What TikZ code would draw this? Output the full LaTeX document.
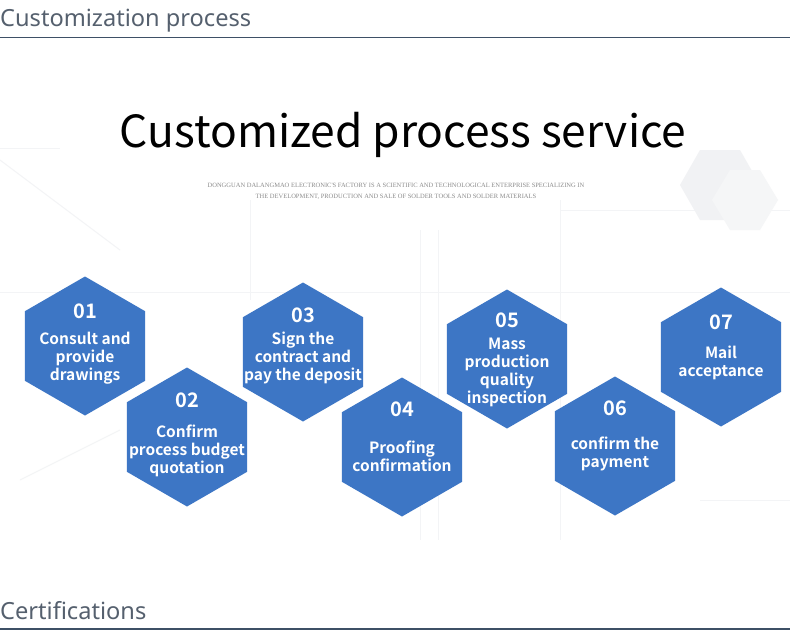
\documentclass[tikz,border=0pt]{standalone}
\usepackage{fontspec}
\setmainfont{Noto Sans}
\newfontfamily\cjk{Noto Sans CJK SC}
\newfontfamily\cjkb{Noto Sans CJK SC Bold}
\newfontfamily\subserif{Liberation Serif}
\definecolor{hexblue}{HTML}{3D76C5}
\definecolor{headtxt}{HTML}{55606E}
\definecolor{headline}{HTML}{3E5066}
\definecolor{bgline}{HTML}{F3F4F6}
\definecolor{bghex}{HTML}{F1F2F4}
\tikzset{
  hexfill/.style={fill=hexblue},
  numtxt/.style={text=white, font=\cjkb\fontsize{20}{22}\selectfont, inner sep=0pt},
  steptxt/.style={text=white, font=\cjkb\fontsize{15.5}{18}\selectfont, align=center, inner sep=0pt, yshift=-2pt},
  headtext/.style={text=headtxt, font=\fontsize{23.6}{26}\selectfont, anchor=base west, inner sep=0pt},
  bgl/.style={draw=bgline, line width=1pt},
}
\newcommand{\hexat}[1]{\fill[hexfill] (#1) ++(90:69.5) -- ++(-30:69.5) -- ++(-90:69.5) -- ++(-150:69.5) -- ++(150:69.5) -- ++(90:69.5) -- cycle;}
\begin{document}
\begin{tikzpicture}[x=1pt,y=-1pt]
\useasboundingbox (0,0) rectangle (790,634);
\fill[white] (0,0) rectangle (790,634);
% faint background pattern
\draw[bgl] (0,160) -- (120,250);
\draw[bgl] (0,292) -- (790,292);
\draw[bgl] (0,148) -- (60,148);
\draw[bgl] (420,230) -- (420,540);
\draw[bgl] (438,230) -- (438,540);
\draw[bgl] (560,200) -- (560,540);
\draw[bgl] (560,210) -- (790,210);
\draw[bgl] (700,500) -- (790,500);
\draw[bgl] (250,200) -- (250,300);
\draw[bgl] (120,430) -- (20,480);
\fill[bghex] (700,150) -- (740,150) -- (760,185) -- (740,220) -- (700,220) -- (680,185) -- cycle;
\fill[bghex!70] (730,170) -- (760,170) -- (778,200) -- (760,230) -- (730,230) -- (712,200) -- cycle;
% headers
\node[headtext] (h1) at (0,27) {Customization process};
\coordinate (l1a) at (0,37.5);
\coordinate (l1b) at (790,37.5);
\draw[headline, line width=1.8pt] (l1a) -- (l1b);
\node[headtext] (h2) at (0,619) {Certifications};
\coordinate (l2a) at (0,629);
\coordinate (l2b) at (790,629);
\draw[headline, line width=1.8pt] (l2a) -- (l2b);
% title
\node[font=\cjk\fontsize{44.3}{48}\selectfont, inner sep=0pt] (title) at (403,135) {Customized process service};
\node[font=\subserif\fontsize{6.5}{11}\selectfont, text=black!45, align=center, inner sep=0pt] (sub) at (396,191.5) {DONGGUAN DALANGMAO ELECTRONIC'S FACTORY IS A SCIENTIFIC AND TECHNOLOGICAL ENTERPRISE SPECIALIZING IN\\THE DEVELOPMENT, PRODUCTION AND SALE OF SOLDER TOOLS AND SOLDER MATERIALS};
% hexagons
\coordinate (c1) at (85,346);
\coordinate (c2) at (187,437);
\coordinate (c3) at (303,352);
\coordinate (c4) at (402,447);
\coordinate (c5) at (507,359);
\coordinate (c6) at (615,446);
\coordinate (c7) at (721,357);
\foreach \c in {c1,c2,c3,c4,c5,c6,c7} {\hexat{\c}}
\node[numtxt] (n1) at (85,311) {01};
\node[steptxt] (t1) at (85,356) {Consult and\\provide\\drawings};
\node[numtxt] (n2) at (187,400) {02};
\node[steptxt] (t2) at (187,449) {Confirm\\process budget\\quotation};
\node[numtxt] (n3) at (303,315) {03};
\node[steptxt] (t3) at (303,356) {Sign the\\contract and\\pay the deposit};
\node[numtxt] (n4) at (402,409) {04};
\node[steptxt] (t4) at (402,454.5) {Proofing\\confirmation};
\node[numtxt] (n5) at (507,320) {05};
\node[steptxt] (t5) at (507,370) {Mass\\production\\quality\\inspection};
\node[numtxt] (n6) at (615,408) {06};
\node[steptxt] (t6) at (615,452) {confirm the\\payment};
\node[numtxt] (n7) at (721,322) {07};
\node[steptxt] (t7) at (721,361) {Mail\\acceptance};
\end{tikzpicture}
\end{document}
